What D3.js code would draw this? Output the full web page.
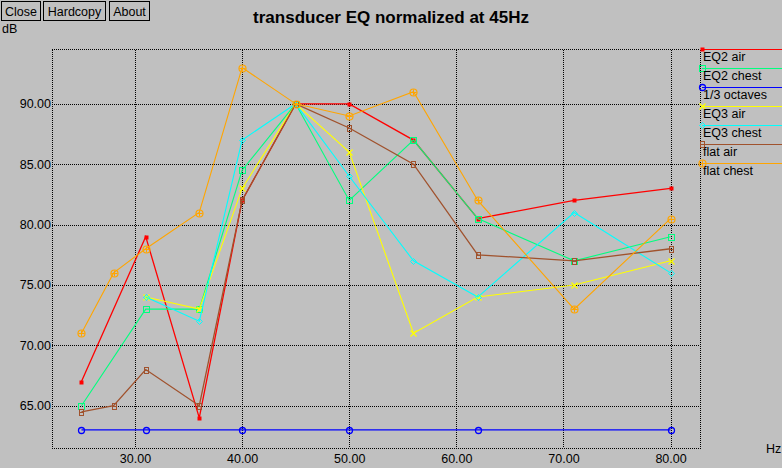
<!DOCTYPE html>
<html><head><meta charset="utf-8">
<script src="https://cdn.jsdelivr.net/npm/d3@7"></script>
<style>
html,body{margin:0;padding:0;background:#c0c0c0;overflow:hidden;}
svg{display:block;font-family:"Liberation Sans",Arial,sans-serif;}
</style></head><body>
<svg id="c" width="782" height="468"></svg>
<script>
// ---- data ----
const title = "transducer EQ normalized at 45Hz";
const seriesNames = ["EQ2 air","EQ2 chest","1/3 octaves","EQ3 air","EQ3 chest","flat air","flat chest"];
const seriesColors = ["#ff0000","#00ff7f","#0000ff","#ffff00","#00ffff","#a0522d","#ffa500"];
const seriesMarkers = ["fsquare","square","circle","x","diamond","bsquare","ocircle"];

const eq2AirHz   = [25,31,36,40,45,50,56,62,71,80];
const eq2Air     = [67,79,64,82,90,90,87,80.5,82,83];
const eq2ChestHz = [25,31,36,40,45,50,56,62,71,80];
const eq2Chest   = [65,73,73,84.5,90,82,87,80.5,77,79];
const octHz      = [25,31,40,50,62,80];
const oct        = [63,63,63,63,63,63];
const eq3AirHz   = [31,36,40,45,50,56,62,71,80];
const eq3Air     = [74,73,83,90,86,71,74,75,77];
const eq3ChestHz = [31,36,40,45,50,56,62,71,80];
const eq3Chest   = [74,72,87,90,84,77,74,81,76];
const flatAirHz  = [25,28,31,36,40,45,50,56,62,71,80];
const flatAir    = [64.5,65,68,65,82,90,88,85,77.5,77,78];
const flatChestHz= [25,28,31,36,40,45,50,56,62,71,80];
const flatChest  = [71,76,78,81,93,90,89,91,82,73,80.5];

const xTicks = [30,40,50,60,70,80];
const yTicks = [65,70,75,80,85,90];
const buttons = ["Close","Hardcopy","About"];

const allHz = [eq2AirHz,eq2ChestHz,octHz,eq3AirHz,eq3ChestHz,flatAirHz,flatChestHz];
const allVal = [eq2Air,eq2Chest,oct,eq3Air,eq3Chest,flatAir,flatChest];

// ---- layout ----
const L=52, R=700, T=49.5, B=448;
const svg = d3.select("#c");
const x = d3.scaleLinear().domain([22.25,82.75]).range([L,R]);
const y = d3.scaleLinear().domain([61.5,94.5]).range([B,T]);

// buttons
const bx=[1,43,109], bw=[39,62,40];
buttons.forEach((b,i)=>{
  svg.append("rect").attr("x",bx[i]+0.5).attr("y",1.5).attr("width",bw[i]).attr("height",19)
    .attr("fill","none").attr("stroke","#000").attr("stroke-width",1).attr("shape-rendering","crispEdges");
  svg.append("text").attr("x",bx[i]+0.5+bw[i]/2).attr("y",15.5).attr("text-anchor","middle")
    .attr("font-size","12.5px").attr("fill","#000").text(b);
});

// title
svg.append("text").attr("x",391).attr("y",23).attr("text-anchor","middle")
  .attr("font-size","17px").attr("font-weight","bold").attr("fill","#000").text(title);

svg.append("text").attr("x",2).attr("y",33).attr("font-size","12.5px").text("dB");
svg.append("text").attr("x",766).attr("y",453).attr("font-size","12.5px").text("Hz");

// grid & frame (dotted)
const g = svg.append("g").attr("stroke","#000").attr("stroke-width",1)
  .attr("stroke-dasharray","1,1").attr("shape-rendering","crispEdges");
g.append("rect").attr("x",L).attr("y",T).attr("width",R-L).attr("height",B-T).attr("fill","none");
xTicks.forEach(t=>g.append("line").attr("x1",Math.round(x(t))+0.5).attr("x2",Math.round(x(t))+0.5).attr("y1",T).attr("y2",B));
yTicks.forEach(t=>g.append("line").attr("y1",Math.round(y(t))+0.5).attr("y2",Math.round(y(t))+0.5).attr("x1",L).attr("x2",R));

// axes labels via d3 axis
const xAxis = svg.append("g").attr("transform",`translate(0,${B})`)
  .call(d3.axisBottom(x).tickValues(xTicks).tickFormat(d3.format(".2f")).tickSize(0).tickPadding(6));
xAxis.select(".domain").remove();
xAxis.selectAll("text").attr("font-size","12.5px").attr("font-family","Liberation Sans, Arial, sans-serif").attr("fill","#000");
const yAxis = svg.append("g").attr("transform",`translate(${L},0)`)
  .call(d3.axisLeft(y).tickValues(yTicks).tickFormat(d3.format(".2f")).tickSize(0).tickPadding(1));
yAxis.select(".domain").remove();
yAxis.selectAll("text").attr("font-size","12.5px").attr("font-family","Liberation Sans, Arial, sans-serif").attr("fill","#000");

// markers
function marker(sel, type, color, cx, cy){
  const m = sel.append("g").attr("transform",`translate(${Math.round(cx)+0.5},${Math.round(cy)+0.5})`);
  switch(type){
    case "fsquare": m.append("rect").attr("x",-2).attr("y",-2).attr("width",4).attr("height",4).attr("fill",color); break;
    case "square": m.append("rect").attr("x",-3).attr("y",-3).attr("width",6).attr("height",6).attr("fill","none").attr("stroke",color); break;
    case "bsquare": m.append("rect").attr("x",-2).attr("y",-3).attr("width",4).attr("height",6).attr("fill","none").attr("stroke",color);
                    m.append("line").attr("x1",-2).attr("x2",2).attr("y1",0).attr("y2",0).attr("stroke",color); break;
    case "circle": m.append("circle").attr("r",3).attr("fill","none").attr("stroke",color).attr("stroke-width",1.3); break;
    case "ocircle": m.append("circle").attr("r",3.5).attr("fill","none").attr("stroke",color).attr("stroke-width",1.2);
                    m.append("path").attr("d","M-3,0H3M0,-3V3").attr("stroke",color); break;
    case "x": m.append("path").attr("d","M-3,-3L3,3M-3,3L3,-3").attr("stroke",color).attr("stroke-width",1.2); break;
    case "diamond": m.append("path").attr("d","M0,-3L3,0L0,3L-3,0Z").attr("fill","none").attr("stroke",color); break;
  }
}

// series lines
const line = d3.line().x(d=>x(d[0])).y(d=>y(d[1]));
const plot = svg.append("g");
allHz.forEach((hz,i)=>{
  const pts = hz.map((h,j)=>[h,allVal[i][j]]);
  plot.append("path").attr("d",line(pts)).attr("fill","none").attr("stroke",seriesColors[i])
    .attr("stroke-width", i===0||i===5 ? 1.3 : 1.1);
  pts.forEach(p=>marker(plot, seriesMarkers[i], seriesColors[i], x(p[0]), y(p[1])));
});

// legend
const lg = svg.append("g");
seriesNames.forEach((n,i)=>{
  const ly = 49 + i*19;
  lg.append("line").attr("x1",702).attr("x2",782).attr("y1",ly+0.5).attr("y2",ly+0.5)
    .attr("stroke",seriesColors[i]).attr("stroke-width",1.2);
  marker(lg, seriesMarkers[i], seriesColors[i], 702, ly);
  lg.append("text").attr("x",703).attr("y",ly+11.5).attr("font-size","12.5px").attr("fill","#000").text(n);
});
</script>
</body></html>
